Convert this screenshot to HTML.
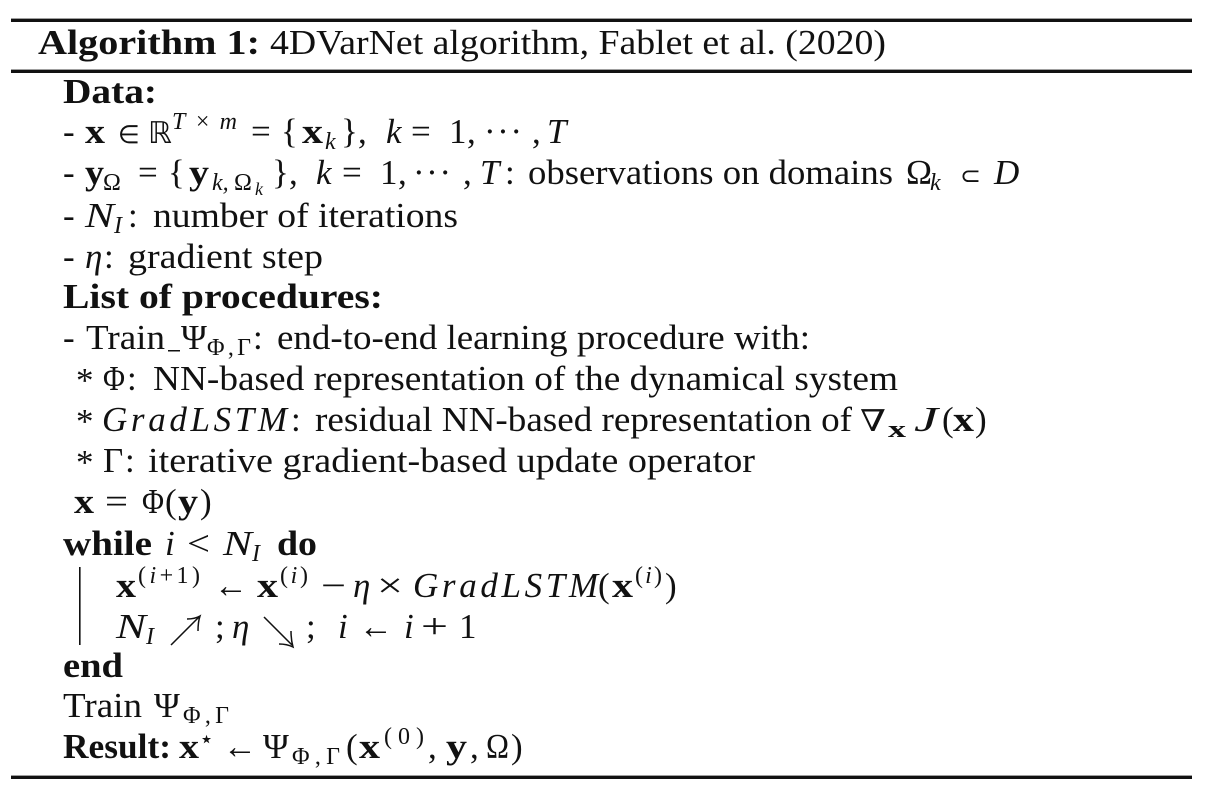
<!DOCTYPE html>
<html><head><meta charset="utf-8"><style>
html,body{margin:0;padding:0;background:#fff}
svg{display:block}
text{font-family:"Liberation Serif","DejaVu Serif",serif;font-size:35px;fill:#111}
.b{font-weight:bold}.i{font-style:italic}
.s{font-size:24px}.ss{font-size:18px}
.d{font-family:"DejaVu Sans",sans-serif}
</style></head><body>
<svg width="1213" height="793" viewBox="0 0 1213 793" xmlns="http://www.w3.org/2000/svg">
<rect width="1213" height="793" fill="#fff"/>
<rect x="11" y="18.6" width="1181" height="3.4" fill="#111"/>
<rect x="11" y="69.6" width="1181" height="3.4" fill="#111"/>
<rect x="11" y="775.6" width="1181" height="3.4" fill="#111"/>
<rect x="79" y="567" width="1.6" height="78" fill="#111"/>

<text x="38" y="54" class="b" textLength="222" lengthAdjust="spacingAndGlyphs">Algorithm 1:</text>
<text x="270" y="54" textLength="616" lengthAdjust="spacingAndGlyphs">4DVarNet algorithm, Fablet et al. (2020)</text>

<text x="63" y="103" class="b" textLength="94" lengthAdjust="spacingAndGlyphs">Data:</text>

<text x="63" y="143">-</text><text x="85" y="143" class="b" textLength="20" lengthAdjust="spacingAndGlyphs">x</text><text x="118" y="143" class="d" style="font-size:25px">∈</text>
<text x="148" y="143" class="d" style="font-size:30px">ℝ</text><text x="172" y="129" class="s i" textLength="65">T×m</text>
<text x="251" y="143">=</text><text x="281" y="143">{</text><text x="302" y="143" class="b" textLength="21" lengthAdjust="spacingAndGlyphs">x</text><text x="325" y="149" class="s i">k</text><text x="341" y="143">}</text><text x="358" y="143">,</text>
<text x="386" y="143" class="i">k</text><text x="411" y="143">=</text><text x="449" y="143">1</text><text x="467" y="143">,</text><text x="484" y="143" textLength="38">···</text><text x="532" y="143">,</text><text x="547" y="143" class="i">T</text>

<text x="63" y="184">-</text><text x="85" y="184" class="b" textLength="19" lengthAdjust="spacingAndGlyphs">y</text><text x="103" y="190" class="s">Ω</text><text x="138" y="184">=</text><text x="168" y="184">{</text><text x="189" y="184" class="b" textLength="20" lengthAdjust="spacingAndGlyphs">y</text>
<text x="212" y="190" class="s i">k,</text><text x="234" y="190" class="s">Ω</text><text x="255" y="195" class="ss i">k</text><text x="272" y="184">}</text><text x="289" y="184">,</text>
<text x="316" y="184" class="i">k</text><text x="342" y="184">=</text><text x="380" y="184">1</text><text x="398" y="184">,</text><text x="413" y="184" textLength="38">···</text><text x="463" y="184">,</text><text x="480" y="184" class="i">T</text><text x="505" y="184">:</text>
<text x="528" y="184" textLength="365" lengthAdjust="spacingAndGlyphs">observations on domains</text>
<text x="906" y="184">Ω</text><text x="930" y="190" class="s i">k</text><text x="960" y="184" class="d" style="font-size:25px">⊂</text><text x="994" y="184" class="i" textLength="25">D</text>

<text x="63" y="227">-</text><text x="85" y="227" class="i" textLength="29" lengthAdjust="spacingAndGlyphs">N</text><text x="114" y="233" class="s i">I</text><text x="128" y="227">:</text>
<text x="153" y="227" textLength="305" lengthAdjust="spacingAndGlyphs">number of iterations</text>

<text x="63" y="268">-</text><text x="85" y="268" class="i">η</text><text x="104" y="268">:</text>
<text x="128" y="268" textLength="195" lengthAdjust="spacingAndGlyphs">gradient step</text>

<text x="63" y="308" class="b" textLength="320" lengthAdjust="spacingAndGlyphs">List of procedures:</text>

<text x="63" y="349">-</text><text x="86" y="349" textLength="79" lengthAdjust="spacingAndGlyphs">Train</text><rect x="168" y="350" width="12" height="1.5" fill="#111"/><text x="181" y="349">Ψ</text><text x="207" y="355" class="s" textLength="44">Φ,Γ</text><text x="253" y="349">:</text>
<text x="277" y="349" textLength="533" lengthAdjust="spacingAndGlyphs">end-to-end learning procedure with:</text>

<text x="76" y="392">*</text><text x="103" y="390" textLength="22" lengthAdjust="spacingAndGlyphs">Φ</text><text x="127" y="390">:</text>
<text x="153" y="390" textLength="745" lengthAdjust="spacingAndGlyphs">NN-based representation of the dynamical system</text>

<text x="76" y="433">*</text><text x="102" y="431" class="i" textLength="185">GradLSTM</text><text x="291" y="431">:</text>
<text x="315" y="431" textLength="537" lengthAdjust="spacingAndGlyphs">residual NN-based representation of</text>
<text x="860" y="431" font-family="DejaVu Serif" style="font-size:30px;font-weight:normal" textLength="26" lengthAdjust="spacingAndGlyphs">∇</text><text x="888" y="437" class="s b" textLength="18" lengthAdjust="spacingAndGlyphs">x</text><text x="914" y="431" class="i" textLength="24" lengthAdjust="spacingAndGlyphs">J</text><text x="942" y="431">(</text><text x="953" y="431" class="b" textLength="21" lengthAdjust="spacingAndGlyphs">x</text><text x="975" y="431">)</text>

<text x="76" y="474">*</text><text x="103" y="472">Γ</text><text x="125" y="472">:</text>
<text x="148" y="472" textLength="607" lengthAdjust="spacingAndGlyphs">iterative gradient-based update operator</text>

<text x="74" y="513" class="b" textLength="20" lengthAdjust="spacingAndGlyphs">x</text><text x="105" y="513" textLength="23" lengthAdjust="spacingAndGlyphs">=</text><text x="142" y="513" textLength="22" lengthAdjust="spacingAndGlyphs">Φ</text><text x="165" y="513">(</text><text x="178" y="513" class="b" textLength="20" lengthAdjust="spacingAndGlyphs">y</text><text x="200" y="513">)</text>

<text x="63" y="555" class="b" textLength="89" lengthAdjust="spacingAndGlyphs">while</text><text x="165" y="555" class="i">i</text><text x="187" y="555" textLength="23" lengthAdjust="spacingAndGlyphs">&lt;</text><text x="223" y="555" class="i" textLength="29" lengthAdjust="spacingAndGlyphs">N</text><text x="252" y="561" class="s i">I</text><text x="277" y="555" class="b" textLength="40" lengthAdjust="spacingAndGlyphs">do</text>

<text x="116" y="597" class="b" textLength="20" lengthAdjust="spacingAndGlyphs">x</text><text x="138" y="583" class="s" textLength="62">(<tspan class="i">i</tspan>+1)</text><text x="214" y="597" textLength="34" lengthAdjust="spacingAndGlyphs">←</text><text x="257" y="597" class="b" textLength="21" lengthAdjust="spacingAndGlyphs">x</text><text x="280" y="583" class="s" textLength="28">(<tspan class="i">i</tspan>)</text>
<text x="321" y="597" textLength="25" lengthAdjust="spacingAndGlyphs">−</text><text x="353" y="597" class="i">η</text><text x="377" y="597" textLength="26" lengthAdjust="spacingAndGlyphs">×</text>
<text x="413" y="597" class="i" textLength="185">GradLSTM</text><text x="598" y="597">(</text><text x="612" y="597" class="b" textLength="21" lengthAdjust="spacingAndGlyphs">x</text><text x="635" y="583" class="s" textLength="27">(<tspan class="i">i</tspan>)</text><text x="665" y="597">)</text>

<text x="116" y="638" class="i" textLength="30" lengthAdjust="spacingAndGlyphs">N</text><text x="146" y="644" class="s i">I</text>
<path d="M171 645 L199 617 M187 619 Q195 619 200 616 Q198 622 198 631" fill="none" stroke="#111" stroke-width="1.5"/>
<text x="215" y="638">;</text><text x="232" y="638" class="i">η</text>
<path d="M264 617 L292 645 M279 644 Q287 644 293 647 Q291 640 291 631" fill="none" stroke="#111" stroke-width="1.5"/>
<text x="306" y="638">;</text><text x="338" y="638" class="i">i</text><text x="359" y="638" textLength="34" lengthAdjust="spacingAndGlyphs">←</text><text x="404" y="638" class="i">i</text><text x="421" y="638" textLength="27" lengthAdjust="spacingAndGlyphs">+</text><text x="459" y="638">1</text>

<text x="63" y="677" class="b" textLength="60" lengthAdjust="spacingAndGlyphs">end</text>

<text x="63" y="717" textLength="79" lengthAdjust="spacingAndGlyphs">Train</text><text x="154" y="717">Ψ</text><text x="183" y="723" class="s" textLength="46">Φ,Γ</text>

<text x="63" y="758" class="b" textLength="108" lengthAdjust="spacingAndGlyphs">Result:</text><text x="179" y="758" class="b" textLength="20" lengthAdjust="spacingAndGlyphs">x</text><text x="199" y="747" class="s">⋆</text><text x="223" y="758" textLength="34" lengthAdjust="spacingAndGlyphs">←</text><text x="263" y="758">Ψ</text><text x="292" y="764" class="s" textLength="48">Φ,Γ</text>
<text x="346" y="758">(</text><text x="359" y="758" class="b" textLength="21" lengthAdjust="spacingAndGlyphs">x</text><text x="384" y="744" class="s" textLength="40">(0)</text><text x="428" y="758">,</text><text x="446" y="758" class="b" textLength="21" lengthAdjust="spacingAndGlyphs">y</text><text x="470" y="758">,</text><text x="486" y="758" textLength="23" lengthAdjust="spacingAndGlyphs">Ω</text><text x="511" y="758">)</text>
</svg>
</body></html>
